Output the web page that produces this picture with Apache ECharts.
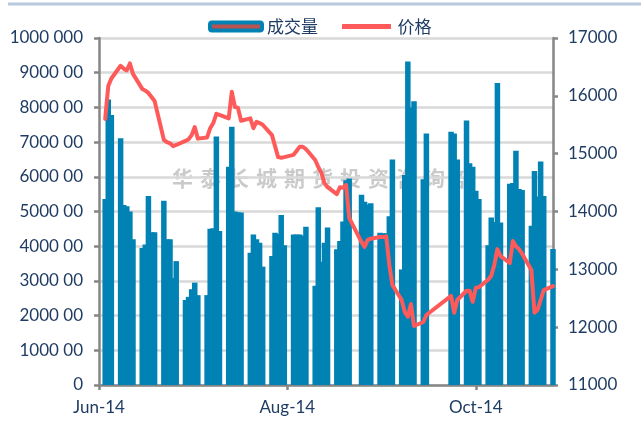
<!DOCTYPE html>
<html>
<head>
<meta charset="utf-8">
<script src="https://cdn.jsdelivr.net/npm/echarts@6/dist/echarts.min.js"></script>
<style>
html, body { margin: 0; padding: 0; background: #fff; }
#chart { width: 641px; height: 421px; }
</style>
</head>
<body>
<div id="chart"></div>
<script>
// trading days (weekends and holidays are left empty on the date axis)
const tradeDates = [
  '2014-06-18', '2014-06-19', '2014-06-20',
  '2014-06-23', '2014-06-24', '2014-06-25', '2014-06-26', '2014-06-27',
  '2014-06-30', '2014-07-01', '2014-07-02', '2014-07-03', '2014-07-04',
  '2014-07-07', '2014-07-08', '2014-07-09', '2014-07-10', '2014-07-11',
  '2014-07-14', '2014-07-15', '2014-07-16', '2014-07-17', '2014-07-18',
  '2014-07-21', '2014-07-22', '2014-07-23', '2014-07-24', '2014-07-25',
  '2014-07-28', '2014-07-29', '2014-07-30', '2014-07-31', '2014-08-01',
  '2014-08-04', '2014-08-05', '2014-08-06', '2014-08-07', '2014-08-08',
  '2014-08-11', '2014-08-12', '2014-08-13', '2014-08-14', '2014-08-15',
  '2014-08-18', '2014-08-19', '2014-08-20', '2014-08-21', '2014-08-22',
  '2014-08-25', '2014-08-26', '2014-08-27', '2014-08-28', '2014-08-29',
  '2014-09-01', '2014-09-02', '2014-09-03', '2014-09-04', '2014-09-05',
  '2014-09-09', '2014-09-10', '2014-09-11', '2014-09-12',
  '2014-09-15', '2014-09-16', '2014-09-17', '2014-09-18', '2014-09-19',
  '2014-09-22', '2014-09-23', '2014-09-24', '2014-09-25', '2014-09-26',
  '2014-09-29', '2014-09-30',
  '2014-10-08', '2014-10-09', '2014-10-10',
  '2014-10-13', '2014-10-14', '2014-10-15', '2014-10-16', '2014-10-17',
  '2014-10-20', '2014-10-21', '2014-10-22', '2014-10-23', '2014-10-24',
  '2014-10-27', '2014-10-28', '2014-10-29', '2014-10-30', '2014-10-31',
  '2014-11-03', '2014-11-04', '2014-11-05', '2014-11-06', '2014-11-07',
  '2014-11-10'
]

// 成交量
const volume = [
  536000, 823000, 778000,
  711000, 519000, 515000, 500000, 420000,
  395000, 405000, 545000, 440000, 440000,
  531000, 420000, 420000, 308000, 357000,
  245000, 254000, 276000, 295000, 259000,
  259000, 450000, 452000, 716000, 444000,
  629000, 744000, 500000, 498000, 497000,
  381000, 434000, 420000, 410000, 341000,
  372000, 439000, 435000, 490000, 403000,
  434000, 434000, 434000, 430000, 456000,
  286000, 512000, 355000, 410000, 454000,
  391000, 415000, 471000, 590000, 595000,
  548000, 528000, 520000, 524000,
  439000, 437000, 437000, 486000, 650000,
  333000, 605000, 932000, 800000, 818000,
  593000, 725000,
  730000, 725000, 650000,
  762000, 639000, 629000, 560000, 536000,
  403000, 483000, 470000, 870000, 468000,
  580000, 582000, 675000, 565000, 562000,
  459000, 617000, 543000, 644000, 545000,
  392000
]

// 价格
const price = [
  15600, 16170, 16300,
  16520, 16470, 16440, 16560, 16380,
  16120, 16090, 16050, 15980, 15910,
  15240, 15200, 15180, 15130, 15150,
  15220, 15250, 15320, 15460, 15260,
  15280, 15440, 15530, 15690, 15670,
  15610, 16070, 15810, 15790, 15570,
  15610, 15440, 15550, 15530, 15500,
  15320, 15130, 14940, 14930, 14940,
  14980, 15050, 15120, 15120, 15080,
  14890, 14770, 14670, 14490, 14420,
  14300, 14420, 14410, 14460, 13890,
  13470, 13390, 13510, 13530,
  13560, 13560, 13570, 13080, 12730,
  12470, 12260, 12180, 12400, 12020,
  12090, 12210,
  12540, 12250, 12470,
  12630, 12630, 12440, 12680, 12690,
  12820, 12890, 13080, 13350, 13230,
  13110, 13490, 13400, 13350, 13270,
  12990, 12250, 12300, 12470, 12640,
  12710
]

const axisStart = '2014-06-16'
const axisEnd = '2014-11-10'
const tickLabels = { '2014-06-16': 'Jun-14', '2014-08-16': 'Aug-14', '2014-10-16': 'Oct-14' }
const watermark = '华泰长城期货投资咨询部'

// every calendar day on the axis
const days = []
for (let t = Date.parse(axisStart); t <= Date.parse(axisEnd); t += 86400000) {
  days.push(new Date(t).toISOString().slice(0, 10))
}
const volByDay = {}
const priceByDay = {}
tradeDates.forEach((d, i) => {
  volByDay[d] = volume[i]
  priceByDay[d] = price[i]
})
const volSeries = days.map((d) => (d in volByDay ? volByDay[d] : null))
const priceSeries = days.map((d) => (d in priceByDay ? priceByDay[d] : null))

const navy = '#1F3C64'
const axisGray = '#868686'
const barBlue = '#0082B4'
const lineRed = '#FF5A5A'
const numFont = 'Lato'
const cjkFont = 'Noto Sans CJK SC'

const wmChars = watermark.split('').map((c, k) => ({
  type: 'text',
  x: 172 + k * 28,
  y: 168,
  z: 0,
  zlevel: 0,
  style: {
    text: c,
    fill: 'rgba(150, 150, 150, 0.5)',
    font: 'bold 21px "Noto Sans CJK SC"',
  },
}))

const myChart = echarts.init(document.getElementById('chart'))
const option = {
  animation: false,
  grid: {
    left: 99,
    right: 88,
    top: 38,
    bottom: 36,
  },
  legend: {
    data: [
      {
        name: '成交量',
        icon: 'roundRect',
        itemStyle: { color: '#B9534F', borderColor: barBlue, borderWidth: 4 },
      },
      {
        name: '价格',
        icon: 'roundRect',
        itemStyle: { color: lineRed, borderColor: '#FFFFFF', borderWidth: 3 },
      },
    ],
    left: 203,
    top: 13,
    itemWidth: 52,
    itemHeight: 8,
    itemGap: 21,
    textStyle: {
      fontSize: 17,
      color: navy,
      fontFamily: cjkFont,
    },
  },
  graphic: [
    {
      type: 'rect',
      shape: { x: 8, y: 2.5, width: 633, height: 3 },
      style: { fill: '#B8CADD' },
    },
    ...wmChars,
  ],
  xAxis: {
    type: 'category',
    data: days,
    boundaryGap: false,
    axisLine: { lineStyle: { color: axisGray, width: 2.5 } },
    axisTick: {
      show: true,
      interval: (i, v) => v in tickLabels,
      length: 5,
      lineStyle: { color: axisGray, width: 2.5 },
    },
    axisLabel: {
      interval: (i, v) => v in tickLabels,
      formatter: (v) => tickLabels[v] || '',
      color: navy,
      fontFamily: numFont,
      fontSize: 17,
      margin: 14,
    },
    splitLine: { show: false },
  },
  yAxis: [
    {
      type: 'value',
      position: 'left',
      min: 0,
      max: 1000000,
      interval: 100000,
      axisLine: { show: true, lineStyle: { color: axisGray, width: 2.5 } },
      axisTick: { show: true, length: 5, lineStyle: { color: axisGray, width: 2.5 } },
      axisLabel: {
        color: navy,
        fontFamily: numFont,
        fontSize: 17,
        margin: 16,
        formatter: (v) => {
          if (v === 0) return '0'
          const s = String(v)
          return s.slice(0, 4) + ' ' + s.slice(4)
        },
      },
      splitLine: { lineStyle: { color: '#D9D9D9', width: 2.5 } },
    },
    {
      type: 'value',
      position: 'right',
      min: 11000,
      max: 17000,
      interval: 1000,
      axisLine: { show: true, lineStyle: { color: axisGray, width: 2.5 } },
      axisTick: { show: true, length: 5, lineStyle: { color: axisGray, width: 2.5 } },
      axisLabel: {
        color: navy,
        fontFamily: numFont,
        fontSize: 17,
        margin: 15,
        formatter: (v) => String(v),
      },
      splitLine: { show: false },
    },
  ],
  series: [
    {
      name: '成交量',
      type: 'bar',
      yAxisIndex: 0,
      data: volSeries,
      barWidth: 5.5,
      clip: true,
      z: 2,
      itemStyle: { color: barBlue },
    },
    {
      name: '价格',
      type: 'line',
      yAxisIndex: 1,
      data: priceSeries,
      connectNulls: true,
      symbol: 'none',
      z: 3,
      itemStyle: { color: lineRed },
      lineStyle: { color: lineRed, width: 4, join: 'round', cap: 'round' },
    },
  ],
}
myChart.setOption(option)
</script>
</body>
</html>
